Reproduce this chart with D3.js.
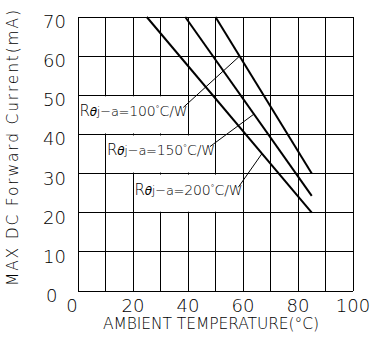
<!doctype html>
<html>
<head>
<meta charset="utf-8">
<script src="https://d3js.org/d3.v7.min.js"></script>
<style>
  body{margin:0;background:#fff;}
  text{font-family:"DejaVu Sans",sans-serif;font-weight:200;fill:#000;}
  .grid line{stroke:#000;stroke-width:1;shape-rendering:crispEdges;}
  .curve{fill:none;stroke:#000;stroke-width:2;}
  .leader{fill:none;stroke:#000;stroke-width:1;}
</style>
</head>
<body>
<svg id="chart"></svg>
<script>
// axis ticks
var tempTicks = [0,10,20,30,40,50,60,70,80,90,100];
var tempLabels = [0,20,40,60,80,100];
var currTicks = [0,10,20,30,40,50,60,70];

// derating lines, one per thermal resistance
var rthValues = ['100','150','200'];
var tStart = [50,39,25];
var iStart = [70,70,70];
var tEnd = [85,85,85];
var iEnd = [30,24.3,20];

// label boxes (grid cells cleared behind the text) and leader lines
var boxT = [[0,40],[10,50],[20,60]];
var boxI = [[40,50],[30,40],[20,30]];
var leaderFrom = [[38.3,46.9],[48,36.9],[58.3,26.5]];
var leaderTo = [[58.75,60],[64,45.2],[66.8,35]];

var W = 377, H = 342;
var x = d3.scaleLinear().domain([0,100]).range([78,353]);
var y = d3.scaleLinear().domain([0,70]).range([291,17]);

var svg = d3.select('#chart').attr('width',W).attr('height',H);

// grid
var g = svg.append('g').attr('class','grid');
g.selectAll('.v').data(tempTicks).enter().append('line')
  .attr('x1',d=>x(d)).attr('x2',d=>x(d)).attr('y1',y(0)).attr('y2',y(70));
g.selectAll('.h').data(currTicks).enter().append('line')
  .attr('x1',x(0)).attr('x2',x(100)).attr('y1',d=>y(d)).attr('y2',d=>y(d));

// white boxes behind labels
svg.selectAll('.box').data(boxT).enter().append('rect')
  .attr('x',(d)=>x(d[0])+1)
  .attr('width',(d)=>x(d[1])-x(d[0])-2)
  .attr('y',(d,i)=>y(boxI[i][1])+1)
  .attr('height',(d,i)=>y(boxI[i][0])-y(boxI[i][1])-2)
  .attr('fill','#fff');

// curves
svg.selectAll('.curve').data(rthValues).enter().append('line')
  .attr('class','curve')
  .attr('x1',(d,i)=>x(tStart[i])).attr('y1',(d,i)=>y(iStart[i]))
  .attr('x2',(d,i)=>x(tEnd[i])).attr('y2',(d,i)=>y(iEnd[i]));

// leaders
svg.selectAll('.leader').data(leaderFrom).enter().append('line')
  .attr('class','leader')
  .attr('x1',d=>x(d[0])).attr('y1',d=>y(d[1]))
  .attr('x2',(d,i)=>x(leaderTo[i][0])).attr('y2',(d,i)=>y(leaderTo[i][1]));

// label texts
var lab = svg.selectAll('.lab').data(rthValues).enter().append('text')
  .attr('x',(d,i)=>x(boxT[i][0])+1.5)
  .attr('y',(d,i)=>y(boxI[i][1])+21)
  .attr('font-size',15);
lab.append('tspan').text('R');
lab.append('tspan').attr('font-style','italic').attr('font-size',12).text('\u03b8');
lab.append('tspan').attr('font-size',13).text('j\u2212a=');
lab.append('tspan').attr('font-size',14).text(d=>d);
lab.append('tspan').attr('font-size',9).attr('dy',-4).text('\u00b0');
lab.append('tspan').attr('font-size',14).attr('dy',4).text('C/W');
lab.attr('textLength',108).attr('lengthAdjust','spacing');

// tick labels
svg.selectAll('.xt').data(tempLabels).enter().append('text')
  .attr('x',d=>d===0?x(d)-6:x(d)).attr('y',312)
  .attr('text-anchor','middle').attr('font-size',18)
  .text(d=>d);
svg.selectAll('.yt').data(currTicks).enter().append('text')
  .attr('x',d=>d===0?46:43).attr('y',d=>y(d)+11)
  .attr('font-size',18)
  .text(d=>d);

// axis titles
svg.append('text').attr('x',103).attr('y',329)
  .attr('font-size',15.5).attr('textLength',216).attr('lengthAdjust','spacing')
  .text('AMBIENT  TEMPERATURE(\u00b0C)');
svg.append('text').attr('transform','translate(18,286) rotate(-90)')
  .attr('font-size',15.5).attr('textLength',276).attr('lengthAdjust','spacing')
  .text('MAX  DC  Forward  Current(mA)');
</script>
</body>
</html>
